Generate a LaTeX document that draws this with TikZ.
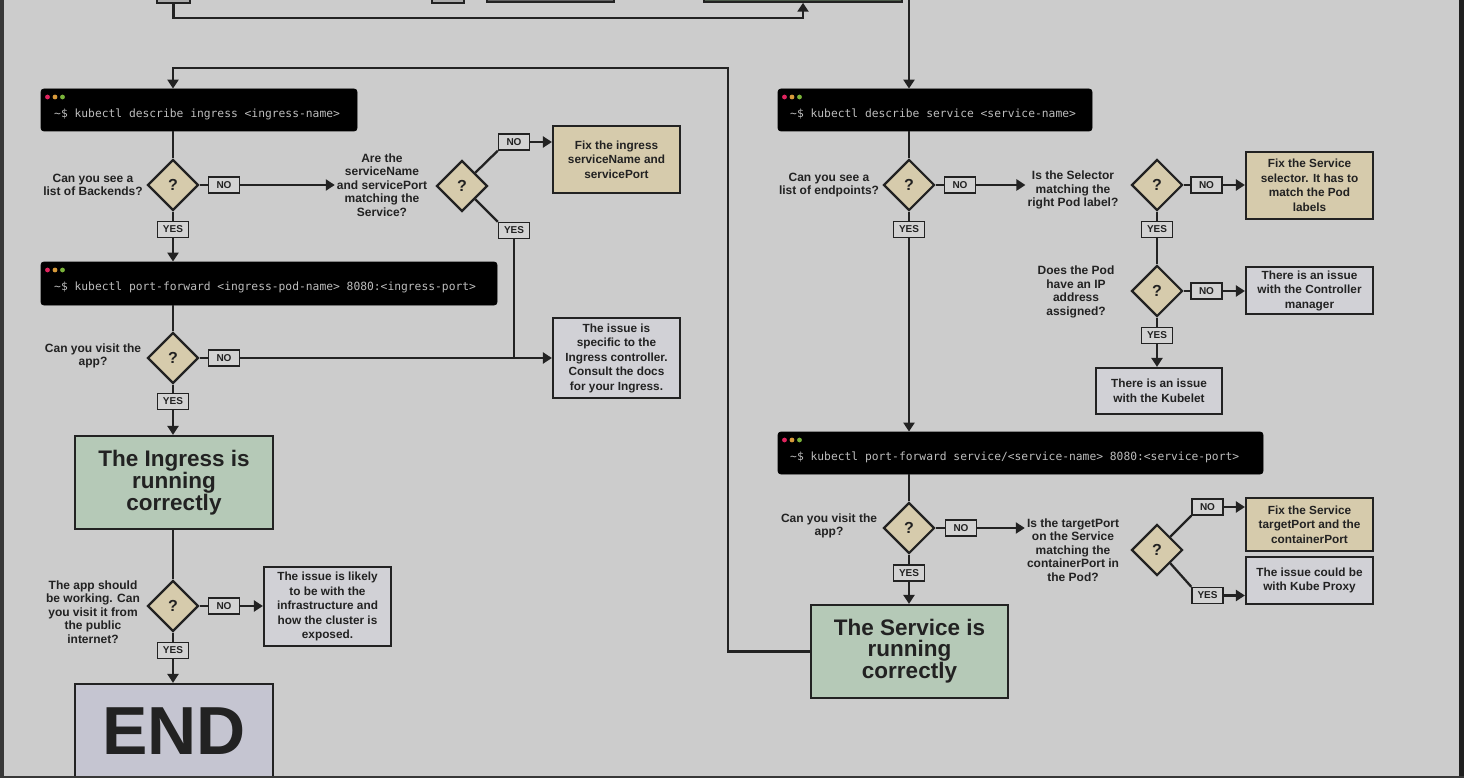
\documentclass[tikz,border=0pt]{standalone}
\usepackage{fontspec}
\setmainfont{Liberation Sans}
\newfontfamily\monof{DejaVu Sans Mono}
\usetikzlibrary{shapes.geometric,arrows.meta}
\definecolor{bg}{HTML}{CCCCCC}
\definecolor{lc}{HTML}{222222}
\definecolor{txt}{HTML}{222222}
\definecolor{beige}{HTML}{D6CBAC}
\definecolor{grayf}{HTML}{D1D1D6}
\definecolor{greenf}{HTML}{B5C9B7}
\definecolor{endf}{HTML}{C5C5D1}
\definecolor{lblf}{HTML}{D3D3D3}
\definecolor{termtxt}{HTML}{BDBDBD}
\definecolor{dotr}{HTML}{E0245E}
\definecolor{doto}{HTML}{D89A3A}
\definecolor{dotg}{HTML}{7AB33A}
\begin{document}
\begin{tikzpicture}[x=1pt,y=-1pt,
  ln/.style={draw=lc, line width=2.3pt},
  arr/.style={ln, -{Triangle[length=9pt,width=11pt]}},
  term/.style={rectangle, rounded corners=3pt, fill=black, draw=black, line width=0.8pt, inner sep=0pt},
  ttext/.style={anchor=west, inner sep=0pt, text=termtxt, font=\monof\fontsize{11.3}{12}\selectfont},
  dia/.style={diamond, aspect=1, minimum width=51pt, minimum height=51pt, inner sep=0pt, fill=beige, draw=lc, line width=2.2pt, text=txt, font=\bfseries\fontsize{16}{16}\selectfont},
  lbl/.style={rectangle, fill=lblf, draw=lc, line width=1.5pt, minimum width=31pt, minimum height=16pt, inner sep=0pt, text=txt, font=\bfseries\fontsize{10}{10}\selectfont},
  q/.style={align=center, inner sep=2pt, text=txt, font=\bfseries\fontsize{12}{13.5}\selectfont},
  box/.style={rectangle, draw=lc, line width=2.2pt, align=center, inner sep=0pt, text=txt, font=\bfseries\fontsize{11.8}{14.5}\selectfont},
  beigebox/.style={box, fill=beige},
  graybox/.style={box, fill=grayf},
  bigbox/.style={box, fill=greenf, font=\bfseries\fontsize{22.5}{21}\selectfont},
  topbox/.style={rectangle, draw=lc, line width=1.5pt, inner sep=0pt}
]
\useasboundingbox (0,0) rectangle (1464,778);
\fill[bg] (0,0) rectangle (1464,778);

% ---- partial shapes at the top edge ----
\node[topbox, fill=black!33, minimum width=33pt, minimum height=16pt] (topa) at (173.5,-5) {};
\node[topbox, fill=black!33, minimum width=32pt, minimum height=16pt] (topb) at (448,-5) {};
\node[topbox, fill=black!62, minimum width=127pt, minimum height=16pt] (topc) at (550.5,-6) {};
\node[topbox, fill={rgb,255:red,76;green,90;blue,74}, minimum width=198pt, minimum height=16pt] (topd) at (803,-6) {};
\coordinate (j1) at (803,18);
\draw[arr] (topa.south) |- (j1) -- (j1 |- topd.south);
\coordinate (topS) at (909,-5);

% ---- terminals ----
\node[term, minimum width=316pt, minimum height=42pt] (t1) at (199,110) {};
\node[ttext] (t1x) at (54,114) {\textasciitilde\$ kubectl describe ingress <ingress-name>};
\node[term, minimum width=456pt, minimum height=43pt] (t2) at (269,283.5) {};
\node[ttext] (t2x) at (54,287) {\textasciitilde\$ kubectl port-forward <ingress-pod-name> 8080:<ingress-port>};
\node[term, minimum width=314pt, minimum height=42pt] (st1) at (935,110) {};
\node[ttext] (st1x) at (790,114) {\textasciitilde\$ kubectl describe service <service-name>};
\node[term, minimum width=485pt, minimum height=42pt] (st2) at (1020.5,453) {};
\node[ttext] (st2x) at (790,457) {\textasciitilde\$ kubectl port-forward service/<service-name> 8080:<service-port>};
\foreach \xx/\yy in {41/89, 41/262, 778/89, 778/432}{
  \fill[dotr] (\xx+6.5,\yy+8) circle (2.4);
  \fill[doto] (\xx+14,\yy+8) circle (2.4);
  \fill[dotg] (\xx+21.5,\yy+8) circle (2.4);
}

% ---- left column ----
\node[dia] (d1) at (173,185) {?};
\node[q] (q1) at (93,185) {Can you see a\\list of Backends?};
\node[lbl] (n1) at (224,185) {NO};
\node[q] (q2) at (382,185) {Are the\\serviceName\\and servicePort\\matching the\\Service?};
\node[dia] (d2) at (462,186) {?};
\node[lbl] (n2) at (514,142) {NO};
\node[beigebox, minimum width=127pt, minimum height=67pt] (fix1) at (616.5,159.5) {Fix the ingress\\serviceName and\\servicePort};
\node[lbl] (y2) at (514,230.5) {YES};
\node[lbl] (y1) at (173,229.5) {YES};

\node[dia] (d3) at (173,358) {?};
\node[q] (q3) at (93,356) {Can you visit the\\app?};
\node[lbl] (n3) at (224,358) {NO};
\node[graybox, minimum width=127pt, minimum height=80pt] (iss1) at (616.5,358) {The issue is\\specific to the\\Ingress controller.\\Consult the docs\\for your Ingress.};
\node[lbl] (y3) at (173,401.5) {YES};
\node[bigbox, minimum width=198pt, minimum height=93pt] (g1) at (174,482.5) {The Ingress is\\running\\correctly};

\node[dia] (d4) at (173,606) {?};
\node[q] (q4) at (93,612) {The app should\\be working. Can\\you visit it from\\the public\\internet?};
\node[lbl] (n4) at (224,606) {NO};
\node[graybox, minimum width=127pt, minimum height=79pt] (iss2) at (327.5,606.5) {The issue is likely\\to be with the\\infrastructure and\\how the cluster is\\exposed.};
\node[lbl] (y4) at (173,650.5) {YES};
\node[box, fill=endf, minimum width=198pt, minimum height=94pt, font=\bfseries\fontsize{68}{68}\selectfont] (endb) at (174,731) {END};

% ---- right column ----
\node[dia] (s1) at (909,185) {?};
\node[q] (qs1) at (829,185) {Can you see a\\list of endpoints?};
\node[lbl] (ns1) at (960,185) {NO};
\node[q] (qs2) at (1073,190) {Is the Selector\\matching the\\right Pod label?};
\node[dia] (s2) at (1157,185) {?};
\node[lbl] (ns2) at (1206.5,185) {NO};
\node[beigebox, minimum width=127pt, minimum height=67pt] (fix2) at (1309.5,185.5) {Fix the Service\\selector. It has to\\match the Pod\\labels};
\node[lbl] (ys2) at (1157,229.5) {YES};
\node[dia] (s3) at (1157,291) {?};
\node[q] (qs3) at (1076,292) {Does the Pod\\have an IP\\address\\assigned?};
\node[lbl] (ns3) at (1206.5,291) {NO};
\node[graybox, minimum width=127pt, minimum height=47pt] (ctrl) at (1309.5,290.5) {There is an issue\\with the Controller\\manager};
\node[lbl] (ys3) at (1157,335.5) {YES};
\node[graybox, minimum width=126pt, minimum height=46pt] (kub) at (1159,391) {There is an issue\\with the Kubelet};
\node[lbl] (ys1) at (909,229.5) {YES};

\node[dia] (s4) at (909,528) {?};
\node[q] (qs4) at (829,526) {Can you visit the\\app?};
\node[lbl] (ns4) at (961,528) {NO};
\node[q] (qs5) at (1073,550) {Is the targetPort\\on the Service\\matching the\\containerPort in\\the Pod?};
\node[dia] (s5) at (1157,550) {?};
\node[lbl] (ns5) at (1207.5,507) {NO};
\node[beigebox, minimum width=127pt, minimum height=53pt] (fix3) at (1309.5,524.5) {Fix the Service\\targetPort and the\\containerPort};
\node[lbl] (ys5) at (1207.5,595.5) {YES};
\node[graybox, minimum width=127pt, minimum height=47pt] (prox) at (1309.5,580.5) {The issue could be\\with Kube Proxy};
\node[lbl] (ys4) at (909,573) {YES};
\node[bigbox, minimum width=197pt, minimum height=93pt] (g2) at (909.5,651.5) {The Service is\\running\\correctly};

% ---- connectors: left ----
\draw[ln] (d1 |- t1.south) -- (d1.north);
\draw[ln] (d1.east) -- (n1.west);
\draw[arr] (n1.east) -- (n1.east -| q2.west);
\draw[ln] (d2.north east) -- (n2.south west);
\draw[arr] (n2.east) -- (n2.east -| fix1.west);
\draw[ln] (d2.south east) -- (y2.north west);
\draw[ln] (y2.south) -- (y2.south |- n3);
\draw[ln] (d1.south) -- (y1.north);
\draw[arr] (y1.south) -- (y1.south |- t2.north);
\draw[ln] (d3 |- t2.south) -- (d3.north);
\draw[ln] (d3.east) -- (n3.west);
\draw[arr] (n3.east) -- (n3.east -| iss1.west);
\draw[ln] (d3.south) -- (y3.north);
\draw[arr] (y3.south) -- (y3.south |- g1.north);
\draw[ln] (d4 |- g1.south) -- (d4.north);
\draw[ln] (d4.east) -- (n4.west);
\draw[arr] (n4.east) -- (n4.east -| iss2.west);
\draw[ln] (d4.south) -- (y4.north);
\draw[arr] (y4.south) -- (y4.south |- endb.north);

% ---- connectors: right ----
\draw[arr] (topS) -- (topS |- st1.north);
\draw[ln] (s1 |- st1.south) -- (s1.north);
\draw[ln] (s1.east) -- (ns1.west);
\draw[arr] (ns1.east) -- (ns1.east -| qs2.west);
\draw[ln] (s2.east) -- (ns2.west);
\draw[arr] (ns2.east) -- (ns2.east -| fix2.west);
\draw[ln] (s2.south) -- (ys2.north);
\draw[ln] (ys2.south) -- (s3.north);
\draw[ln] (s3.east) -- (ns3.west);
\draw[arr] (ns3.east) -- (ns3.east -| ctrl.west);
\draw[ln] (s3.south) -- (ys3.north);
\draw[arr] (ys3.south) -- (ys3.south |- kub.north);
\draw[ln] (s1.south) -- (ys1.north);
\draw[arr] (ys1.south) -- (ys1.south |- st2.north);
\draw[ln] (s4 |- st2.south) -- (s4.north);
\draw[ln] (s4.east) -- (ns4.west);
\draw[arr] (ns4.east) -- (ns4.east -| qs5.west);
\draw[ln] (s5.north east) -- (ns5.south west);
\draw[arr] (ns5.east) -- (ns5.east -| fix3.west);
\draw[ln] (s5.south east) -- (ys5.north west);
\draw[arr] (ys5.east) -- (ys5.east -| prox.west);
\draw[ln] (s4.south) -- (ys4.north);
\draw[arr] (ys4.south) -- (ys4.south |- g2.north);
\coordinate (lp1) at (728,68);
\draw[arr] (g2.west) -| (lp1) -| (d1 |- t1.north);

% ---- screen edges ----
\fill[black!78] (0,0) rectangle (4,778);
\fill[black!88] (1459,0) rectangle (1464,778);
\fill[black!78] (0,776) rectangle (1464,778);
\end{tikzpicture}
\end{document}
